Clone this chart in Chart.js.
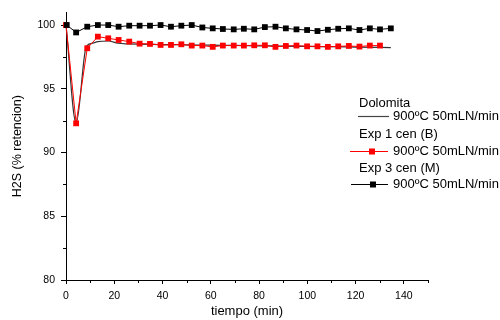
<!DOCTYPE html>
<html>
<head>
<meta charset="utf-8">
<script src="https://cdn.jsdelivr.net/npm/chart.js@4/dist/chart.umd.min.js"></script>
<style>
  html, body { margin: 0; padding: 0; background: #fff; }
  #wrap { width: 500px; height: 320px; position: relative; }
</style>
</head>
<body>
<div id="wrap"><canvas id="c" width="500" height="320"></canvas></div>
<script>
// ---- data ----
const exp3Time = [0.3, 4.2, 8.8, 13.2, 17.5, 21.8, 26.2, 30.5, 34.8, 39.2, 43.5, 47.8, 52.1, 56.5, 60.8, 65.0, 69.5, 73.7, 78.0, 82.4, 86.8, 91.1, 95.5, 99.9, 104.2, 108.5, 112.8, 117.2, 121.6, 125.9, 130.1, 134.6];
const exp3Values = [100.0, 99.42, 99.87, 100.0, 100.0, 99.87, 99.95, 99.95, 99.95, 100.0, 99.87, 99.95, 100.0, 99.81, 99.74, 99.69, 99.66, 99.71, 99.66, 99.84, 99.87, 99.74, 99.66, 99.61, 99.53, 99.63, 99.71, 99.74, 99.61, 99.74, 99.66, 99.74];

const exp1Time = [0.0, 4.2, 8.8, 13.2, 17.5, 21.8, 26.2, 30.5, 34.8, 39.2, 43.5, 47.8, 52.1, 56.5, 60.8, 65.0, 69.5, 73.7, 78.0, 82.4, 86.8, 91.1, 95.5, 99.9, 104.2, 108.5, 112.8, 117.2, 121.6, 125.9, 130.1];
const exp1Values = [100.0, 92.29, 98.18, 99.09, 98.96, 98.83, 98.70, 98.54, 98.52, 98.44, 98.44, 98.49, 98.39, 98.39, 98.29, 98.39, 98.39, 98.39, 98.41, 98.41, 98.29, 98.36, 98.39, 98.33, 98.33, 98.29, 98.33, 98.36, 98.31, 98.39, 98.39];

const dolomitaTime = [0.0, 4.2, 8.4, 11.0, 13.2, 17.5, 21.5, 26.0, 30.0, 40.0, 50.0, 60.0, 70.0, 80.0, 90.0, 100.0, 110.0, 120.0, 134.6];
const dolomitaValues = [100.0, 92.3, 98.31, 98.58, 98.70, 98.75, 98.57, 98.52, 98.50, 98.47, 98.45, 98.42, 98.40, 98.37, 98.35, 98.32, 98.30, 98.27, 98.23];

const xTicks = [0, 20, 40, 60, 80, 100, 120, 140];
const yTicks = [80, 85, 90, 95, 100];
const xMinorTicks = [10, 30, 50, 70, 90, 110, 130, 150];
const yMinorTicks = [82.5, 87.5, 92.5, 97.5];

const legendRows = ["Dolomita", "Exp 1 cen (B)", "Exp 3 cen (M)"];
const legendSub = "900ºC 50mLN/min";

const FONT = '"Liberation Sans", Arial, sans-serif';

function pts(t, v) { return t.map((x, i) => ({ x: x, y: v[i] })); }

const minorTicksPlugin = {
  id: 'minorTicks',
  afterDraw(chart) {
    const ctx = chart.ctx;
    const xs = chart.scales.x, ys = chart.scales.y;
    const ca = chart.chartArea;
    ctx.save();
    ctx.strokeStyle = '#000';
    ctx.lineWidth = 1;
    ctx.beginPath();
    xMinorTicks.forEach(v => {
      const px = Math.round(xs.getPixelForValue(v)) + 0.5;
      ctx.moveTo(px, ca.bottom);
      ctx.lineTo(px, ca.bottom + 3);
    });
    yMinorTicks.forEach(v => {
      const py = Math.round(ys.getPixelForValue(v)) + 0.5;
      ctx.moveTo(ca.left, py);
      ctx.lineTo(ca.left - 3, py);
    });
    ctx.stroke();
    ctx.restore();
  }
};

const legendPlugin = {
  id: 'customLegend',
  afterDraw(chart) {
    const ctx = chart.ctx;
    ctx.save();
    ctx.font = '13px ' + FONT;
    ctx.fillStyle = '#000';
    ctx.textBaseline = 'middle';
    ctx.textAlign = 'left';
    // Dolomita
    ctx.fillText(legendRows[0], 359, 103);
    ctx.strokeStyle = '#444'; ctx.lineWidth = 1.2;
    ctx.beginPath(); ctx.moveTo(358, 116.5); ctx.lineTo(389, 116.5); ctx.stroke();
    ctx.fillText(legendSub, 393, 116);
    // Exp 1
    ctx.fillText(legendRows[1], 359, 134);
    ctx.strokeStyle = '#ff0000'; ctx.lineWidth = 1;
    ctx.beginPath(); ctx.moveTo(350, 151.5); ctx.lineTo(388, 151.5); ctx.stroke();
    ctx.fillStyle = '#ff0000'; ctx.fillRect(369, 148.5, 6, 6);
    ctx.fillStyle = '#000';
    ctx.fillText(legendSub, 393, 151);
    // Exp 3
    ctx.fillText(legendRows[2], 359, 168);
    ctx.strokeStyle = '#000'; ctx.lineWidth = 1;
    ctx.beginPath(); ctx.moveTo(351, 184.5); ctx.lineTo(388, 184.5); ctx.stroke();
    ctx.fillRect(370, 181.5, 6, 6);
    ctx.fillText(legendSub, 393, 184);
    ctx.restore();
  }
};

new Chart(document.getElementById('c'), {
  type: 'line',
  data: {
    datasets: [
      {
        label: legendRows[2],
        data: pts(exp3Time, exp3Values),
        borderColor: '#000', backgroundColor: '#000',
        borderWidth: 1, pointStyle: 'rect', pointRadius: 4.1, pointBorderWidth: 0,
        order: 0, clip: false
      },
      {
        label: legendRows[1],
        data: pts(exp1Time, exp1Values),
        borderColor: '#ff0000', backgroundColor: '#ff0000',
        borderWidth: 1, pointStyle: 'rect', pointRadius: 4.1, pointBorderWidth: 0,
        order: 1, clip: false
      },
      {
        label: legendRows[0],
        data: pts(dolomitaTime, dolomitaValues),
        borderColor: '#333', backgroundColor: '#333',
        borderWidth: 1.2, pointRadius: 0, tension: 0.3, cubicInterpolationMode: 'monotone',
        order: 2, clip: false
      }
    ]
  },
  options: {
    responsive: false,
    animation: false,
    events: [],
    layout: { padding: { left: 0, right: 72, top: 10, bottom: 0 } },
    plugins: { legend: { display: false }, tooltip: { enabled: false } },
    scales: {
      x: {
        type: 'linear', min: 0, max: 150,
        afterFit(s) { s.height = 40; },
        afterBuildTicks(s) { s.ticks = xTicks.map(v => ({ value: v })); },
        grid: { display: true, drawOnChartArea: false, drawTicks: true, tickLength: 4, color: '#000', lineWidth: 1 },
        border: { display: true, color: '#000', width: 1 },
        ticks: { font: { family: FONT, size: 10.5 }, color: '#000', padding: 6, maxRotation: 0 },
        title: { display: true, text: 'tiempo (min)', font: { family: FONT, size: 13 }, color: '#000', padding: { top: 0, bottom: 1 } }
      },
      y: {
        type: 'linear', min: 80, max: 101,
        afterFit(s) { s.width = 66; },
        afterBuildTicks(s) { s.ticks = yTicks.map(v => ({ value: v })); },
        grid: { display: true, drawOnChartArea: false, drawTicks: true, tickLength: 5, color: '#000', lineWidth: 1 },
        border: { display: true, color: '#000', width: 1 },
        ticks: { font: { family: FONT, size: 10.5 }, color: '#000', padding: 6 },
        title: { display: true, text: 'H2S (% retencion)', font: { family: FONT, size: 12.5 }, color: '#000', padding: { top: 10, bottom: 0 } }
      }
    }
  },
  plugins: [minorTicksPlugin, legendPlugin]
});
</script>
</body>
</html>
